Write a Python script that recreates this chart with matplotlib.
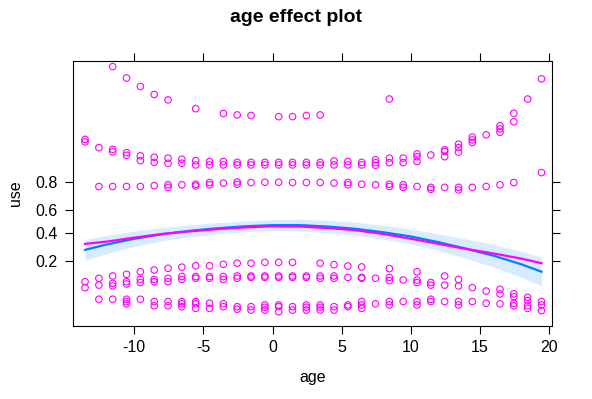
import matplotlib

matplotlib.use("Agg")
import matplotlib.pyplot as plt
import numpy as np

plt.rcParams["font.family"] = ["Liberation Sans", "DejaVu Sans"]
plt.rcParams["axes.unicode_minus"] = False

# centred age (one column of residuals per year)
ages = [
    -13.56, -12.56, -11.56, -10.56, -9.56, -8.56, -7.56, -6.56, -5.56, -4.56,
    -3.56, -2.56, -1.56, -0.56, 0.44, 1.44, 2.44, 3.44, 4.44, 5.44,
    6.44, 7.44, 8.44, 9.44, 10.44, 11.44, 12.44, 13.44, 14.44, 15.44,
    16.44, 17.44, 18.44, 19.44,
]

# partial residuals on the logit scale, one list per age above
resid_logit = [
    [2.90, 2.81, -2.11, -2.32],
    [2.61, 1.24, -1.99, -2.23, -2.73],
    [5.46, 2.55, 2.46, 1.24, -1.91, -2.17, -2.26, -2.73],
    [5.06, 2.43, 2.34, 1.24, -1.85, -2.11, -2.19, -2.73, -2.81, -2.89],
    [4.76, 2.32, 2.15, 1.24, -1.76, -2.03, -2.14, -2.73],
    [4.48, 2.27, 2.09, 1.27, -1.70, -2.03, -2.11, -2.81, -2.96],
    [4.29, 2.24, 2.06, 1.30, 1.21, -1.64, -1.99, -2.11, -2.81, -2.96],
    [2.20, 2.06, 1.30, -1.60, -1.93, -2.03, -2.81, -2.89, -2.99],
    [3.98, 2.15, 2.00, 1.32, 1.26, -1.55, -1.93, -1.99, -2.81, -2.89, -3.05],
    [2.12, 2.00, 1.38, 1.30, -1.55, -1.93, -1.99, -2.87, -3.05],
    [3.81, 2.12, 2.00, 1.36, -1.50, -1.93, -2.03, -2.89, -2.99],
    [3.76, 2.09, 2.00, 1.40, 1.32, -1.46, -1.91, -1.99, -2.99, -3.08],
    [3.74, 2.09, 2.00, 1.38, -1.46, -1.91, -1.96, -2.99, -3.11],
    [2.09, 2.00, 1.39, -1.43, -1.91, -1.96, -2.93, -3.01, -3.11],
    [3.70, 2.09, 2.00, 1.39, -1.43, -1.91, -1.96, -2.93, -2.99, -3.17],
    [3.70, 2.09, 2.00, 1.38, -1.43, -1.91, -1.96, -2.99, -3.11],
    [3.74, 2.09, 2.00, 1.38, -1.91, -1.96, -2.93, -3.01, -3.11],
    [3.76, 2.09, 2.00, 1.38, -1.46, -1.91, -1.99, -2.93, -3.01, -3.11],
    [2.14, 2.00, 1.36, -1.51, -1.91, -1.99, -2.99, -3.11],
    [2.12, 2.00, 1.38, 1.30, -1.56, -1.96, -2.93, -2.99],
    [2.09, 2.00, 1.32, -1.59, -1.96, -1.99, -2.81, -2.93, -3.05],
    [2.18, 2.08, 1.99, 1.30, -1.99, -2.89],
    [4.32, 2.24, 2.08, 1.32, 1.24, -1.65, -1.96, -2.07, -2.81, -2.93],
    [2.24, 2.08, 1.30, 1.21, -2.05, -2.81],
    [2.39, 2.29, 2.12, 1.24, -1.76, -2.05, -2.14, -2.81, -2.93],
    [2.35, 1.21, 1.14, -2.14, -2.23, -2.73, -2.81],
    [2.53, 2.47, 2.29, 1.21, -1.91, -2.23, -2.81],
    [2.73, 2.61, 2.45, 1.21, 1.12, -2.03, -2.26, -2.81, -2.93],
    [2.98, 2.88, 2.79, 1.21, -2.32, -2.81],
    [3.06, 1.24, -2.44, -2.87],
    [3.38, 3.27, 3.15, 1.30, -2.38, -2.54, -2.89],
    [3.82, 3.52, 1.38, -2.54, -2.64, -2.87, -2.96],
    [4.32, -2.66, -2.78, -2.96, -3.05],
    [5.03, 1.73, -2.81, -2.93, -3.13],
]

# fitted effect with confidence band, and smooth of the residuals (logit scale)
fit_age = [-13.56, -12, -10, -8, -6, -4, -2, 0, 2, 4, 6, 8, 10, 12, 14, 16, 18, 19.44]
fit = [-0.99, -0.80, -0.60, -0.44, -0.32, -0.23, -0.16, -0.12, -0.12,
       -0.17, -0.25, -0.37, -0.52, -0.72, -0.95, -1.20, -1.50, -1.76]
fit_upper = [-0.62, -0.48, -0.33, -0.21, -0.11, -0.03, 0.03, 0.07, 0.09,
             0.05, -0.02, -0.13, -0.26, -0.43, -0.61, -0.80, -1.04, -1.26]
fit_lower = [-1.36, -1.12, -0.87, -0.67, -0.53, -0.43, -0.35, -0.31, -0.33,
             -0.39, -0.48, -0.61, -0.78, -1.01, -1.29, -1.60, -1.96, -2.26]
smooth = [-0.78, -0.70, -0.56, -0.43, -0.34, -0.26, -0.20, -0.16, -0.17,
          -0.22, -0.30, -0.43, -0.60, -0.78, -0.96, -1.12, -1.30, -1.46]

x_ticks = [-10, -5, 0, 5, 10, 15, 20]
y_tick_probs = [0.2, 0.4, 0.6, 0.8]

fig = plt.figure(figsize=(5.92, 3.99), dpi=100)
ax = fig.add_axes([0.1238, 0.1830, 0.8091, 0.6642])

ax.fill_between(fit_age, fit_lower, fit_upper, color="#0080ff", alpha=0.15, linewidth=0)
ax.plot(fit_age, fit, color="#0080ff", linewidth=1.6)
ax.plot(fit_age, smooth, color="#ff00ff", linewidth=1.6)

xs = []
ys = []
for age, values in zip(ages, resid_logit):
    for v in values:
        xs.append(age)
        ys.append(v)
ax.scatter(xs, ys, s=22, facecolors="none", edgecolors="#ff00ff", linewidths=0.8, zorder=3)

ax.set_xlim(-14.41, 20.22)
ax.set_ylim(-3.67, 5.66)
ax.set_xticks(x_ticks)
ax.set_xticklabels([str(t) for t in x_ticks])
probs = np.array(y_tick_probs)
ax.set_yticks(np.log(probs / (1 - probs)))
ax.set_yticklabels([str(p) for p in y_tick_probs])

for side in ax.spines.values():
    side.set_linewidth(0.8)
ax.tick_params(direction="out", length=5.5, width=0.8, top=True, right=True,
               labeltop=False, labelright=False, labelsize=11.5)
ax.tick_params(axis="x", pad=4.5)
ax.tick_params(axis="y", pad=6)

fig.text(0.5, 0.957, "age effect plot", ha="center", va="center", fontsize=14, fontweight="bold")
fig.text(0.5 * (0.1238 + 0.933), 0.0551, "age", ha="center", va="center", fontsize=11.5)
fig.text(0.027, 0.515, "use", ha="center", va="center", rotation=90, fontsize=11.5)

fig.savefig("out.png", dpi=100)
